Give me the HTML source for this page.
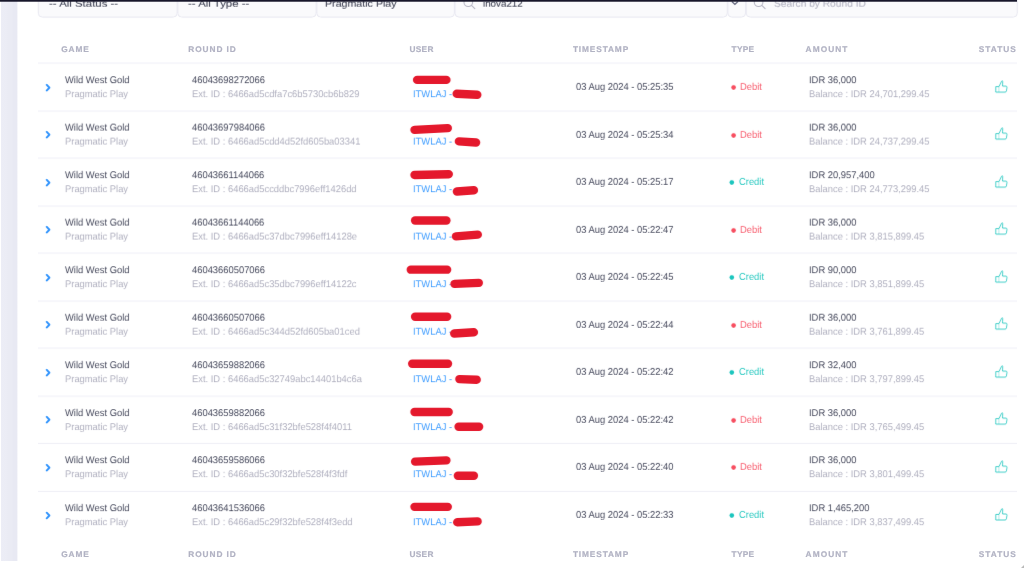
<!DOCTYPE html>
<html lang="en">
<head>
<meta charset="utf-8">
<title>Game Transactions</title>
<style>
html,body{margin:0;padding:0;background:#fff;}
body{width:1024px;height:568px;position:relative;overflow:hidden;font-family:"Liberation Sans",Arial,sans-serif;font-size:9.4px;color:#3f4254;}
.abs{position:absolute;white-space:nowrap;}
#topbar{position:absolute;left:0;top:0;width:1017px;height:2px;background:linear-gradient(180deg,#17162a 0,#17162a 1px,rgba(23,22,42,0.72) 1px,rgba(23,22,42,0.72) 2px);}
#corner{position:absolute;right:0;bottom:0;width:0;height:0;border-style:solid;border-width:0 0 3px 3px;border-color:transparent transparent #b9b9b9 transparent;}
#side{position:absolute;left:1px;top:1px;width:17px;height:560px;background:linear-gradient(90deg,#ecedf6 0,#ebecf5 6px,#eaebf4 7px,#eaebf4 11px,#e8e9f3 12px,#e8e9f3 16px,rgba(232,233,243,0.4) 16.01px,rgba(232,233,243,0.4) 17px);}
.ftext{position:absolute;top:0px;font-size:9.6px;line-height:12px;color:#3f4254;-webkit-text-stroke:0.06px #3f4254;white-space:nowrap;text-rendering:geometricPrecision;transform:scaleX(1.19);transform-origin:0 0;}
.th{position:absolute;font-weight:bold;font-size:8.3px;letter-spacing:1px;color:#b1b2c3;line-height:10px;white-space:nowrap;text-rendering:geometricPrecision;-webkit-text-stroke:0.2px currentColor;}
.line{position:absolute;left:38px;width:979px;height:1px;}
.t1,.t2,.lnk{position:absolute;line-height:11px;white-space:nowrap;font-size:9.9px;text-rendering:geometricPrecision;transform:scaleX(0.9495);transform-origin:0 0;}
.t1{color:#484b5e;}
.t2{color:#b1b1c0;}
.lnk{color:#3f9dff;}
.t1.red{color:#f75d6e;}
.t1.teal{color:#2ac9c1;}
.chev,.thumb,.mark{position:absolute;}
</style>
</head>
<body>
<svg width="0" height="0" style="position:absolute" aria-hidden="true"><defs>
<filter id="k0" x="0" y="-4" width="1024" height="580" filterUnits="userSpaceOnUse" color-interpolation-filters="sRGB"><feConvolveMatrix order="1 7" kernelMatrix="0 0 0.03 0.94 0.03 0 0" divisor="1" edgeMode="none" preserveAlpha="false" result="v"/><feConvolveMatrix in="v" order="3 1" kernelMatrix="0.08 0.84 0.08" divisor="1" edgeMode="none" preserveAlpha="false"/></filter>
<filter id="k1" x="0" y="-4" width="1024" height="580" filterUnits="userSpaceOnUse" color-interpolation-filters="sRGB"><feConvolveMatrix order="1 7" kernelMatrix="0 -0.0009 -0.0209 0.2957 0.7731 -0.0446 -0.0022" divisor="1" edgeMode="none" preserveAlpha="false" result="v"/><feConvolveMatrix in="v" order="3 1" kernelMatrix="0.08 0.84 0.08" divisor="1" edgeMode="none" preserveAlpha="false"/></filter>
<filter id="k2" x="0" y="-4" width="1024" height="580" filterUnits="userSpaceOnUse" color-interpolation-filters="sRGB"><feConvolveMatrix order="1 7" kernelMatrix="0 -0.0019 -0.0328 0.8604 0.1848 -0.01 -0.0005" divisor="1" edgeMode="none" preserveAlpha="false" result="v"/><feConvolveMatrix in="v" order="3 1" kernelMatrix="0.08 0.84 0.08" divisor="1" edgeMode="none" preserveAlpha="false"/></filter>
<filter id="k3" x="0" y="-4" width="1024" height="580" filterUnits="userSpaceOnUse" color-interpolation-filters="sRGB"><feConvolveMatrix order="1 7" kernelMatrix="0 -0.0003 -0.0055 0.1362 0.8937 -0.0225 -0.0016" divisor="1" edgeMode="none" preserveAlpha="false" result="v"/><feConvolveMatrix in="v" order="3 1" kernelMatrix="0.08 0.84 0.08" divisor="1" edgeMode="none" preserveAlpha="false"/></filter>
<filter id="k4" x="0" y="-4" width="1024" height="580" filterUnits="userSpaceOnUse" color-interpolation-filters="sRGB"><feConvolveMatrix order="1 7" kernelMatrix="0 -0.0014 -0.0324 0.418 0.6648 -0.0468 -0.0022" divisor="1" edgeMode="none" preserveAlpha="false" result="v"/><feConvolveMatrix in="v" order="3 1" kernelMatrix="0.08 0.84 0.08" divisor="1" edgeMode="none" preserveAlpha="false"/></filter>
<filter id="k5" x="0" y="-4" width="1024" height="580" filterUnits="userSpaceOnUse" color-interpolation-filters="sRGB"><feConvolveMatrix order="1 7" kernelMatrix="0 -0.0012 -0.0088 0.9188 0.0935 -0.0022 -0.0001" divisor="1" edgeMode="none" preserveAlpha="false" result="v"/><feConvolveMatrix in="v" order="3 1" kernelMatrix="0.08 0.84 0.08" divisor="1" edgeMode="none" preserveAlpha="false"/></filter>
</defs></svg>
<div id="side"></div>
<div class="fbar" style="position:absolute;left:0;top:0px;width:1024px;height:30px;filter:url(#k0)">
<svg class="abs" style="left:0;top:0" width="1024" height="24" viewBox="0 0 1024 24"><g fill="#fafafc" stroke="#e8e8f1" stroke-width="1"><rect x="38.3" y="-9.5" width="138.9" height="26.6" rx="4" ry="4"/><rect x="177.8" y="-9.5" width="138.4" height="26.6" rx="4" ry="4"/><rect x="316.8" y="-9.5" width="137.6" height="26.6" rx="4" ry="4"/><rect x="455" y="-9.5" width="272.3" height="26.6" rx="4" ry="4"/><rect x="727.9" y="-9.5" width="17.7" height="26.6" rx="4" ry="4"/><rect x="746.2" y="-9.5" width="271.1" height="26.6" rx="4" ry="4"/></g><g fill="none" stroke="#b5b5c3" stroke-width="1.1" stroke-linecap="round"><circle cx="468.3" cy="2.2" r="4.3"/><path d="M471.5 5.4L474.8 8.7"/><circle cx="758.6" cy="2.2" r="4.3"/><path d="M761.8 5.4L765.1 8.7"/></g><path d="M731.9 1.5L734.9 4.5L737.9 1.5" fill="none" stroke="#5e6278" stroke-width="1.2"/></svg>
</div>
<div class="ftxt" style="position:absolute;left:0;top:-2px;width:1024px;height:30px;filter:url(#k1)">
<div class="ftext" style="left:49.2px">-- All Status --</div>
<div class="ftext" style="left:188px">-- All Type --</div>
<div class="ftext" style="left:325.4px;transform:scaleX(1.11)">Pragmatic Play</div>
<div class="ftext" style="left:483.2px;transform:scaleX(1.02)">inova212</div>
<div class="ftext" style="left:773.7px;color:#b5b5c3;-webkit-text-stroke:0.1px #b5b5c3;transform:scaleX(1.063)">Search by Round ID</div>
</div>
<div style="position:absolute;left:0;top:44px;width:1024px;height:12px">
<div class="th" style="left:61.3px;top:0px;letter-spacing:0.85px">GAME</div>
<div class="th" style="left:188.2px;top:0px;letter-spacing:0.95px">ROUND ID</div>
<div class="th" style="left:409.4px;top:0px;letter-spacing:0.35px">USER</div>
<div class="th" style="left:572.9px;top:0px;letter-spacing:0.88px">TIMESTAMP</div>
<div class="th" style="left:731.6px;top:0px;letter-spacing:0.25px">TYPE</div>
<div class="th" style="left:805.6px;top:0px;letter-spacing:1.08px">AMOUNT</div>
<div class="th" style="left:978.8px;top:0px;letter-spacing:1.02px">STATUS</div>
</div>
<div style="position:absolute;left:0;top:549px;width:1024px;height:12px">
<div class="th" style="left:61.3px;top:0px;letter-spacing:0.85px">GAME</div>
<div class="th" style="left:188.2px;top:0px;letter-spacing:0.95px">ROUND ID</div>
<div class="th" style="left:409.4px;top:0px;letter-spacing:0.35px">USER</div>
<div class="th" style="left:572.9px;top:0px;letter-spacing:0.88px">TIMESTAMP</div>
<div class="th" style="left:731.6px;top:0px;letter-spacing:0.25px">TYPE</div>
<div class="th" style="left:805.6px;top:0px;letter-spacing:1.08px">AMOUNT</div>
<div class="th" style="left:978.8px;top:0px;letter-spacing:1.02px">STATUS</div>
</div>
<div class="line" style="top:62px;background:rgba(247,247,251,0.87)"></div>
<div class="line" style="top:63px;background:rgba(247,247,251,1.00)"></div>
<div class="line" style="top:64px;background:rgba(247,247,251,0.13)"></div>
<div style="position:absolute;left:0;top:64px;width:1024px;height:47px;filter:url(#k2)">
<div class="t1" style="left:64.7px;top:11px">Wild West Gold</div>
<div class="t2" style="left:64.7px;top:25px">Pragmatic Play</div>
<div class="t1" style="left:192px;top:11px">46043698272066</div>
<div class="t2" style="left:192px;top:25px">Ext. ID : 6466ad5cdfa7c6b5730cb6b829</div>
<div class="lnk" style="left:413px;top:25px">ITWLAJ - </div>
<div class="t1" style="left:808.5px;top:11px">IDR 36,000</div>
<div class="t2" style="left:808.5px;top:25px">Balance : IDR 24,701,299.45</div>
</div>
<div style="position:absolute;left:0;top:63px;width:1024px;height:47px;filter:url(#k3)">
<div class="t1" style="left:576.1px;top:18px">03 Aug 2024 - 05:25:35</div>
<svg class="abs" style="left:730px;top:19px" width="8" height="8" viewBox="0 0 8 8"><circle cx="3.6" cy="4.6" r="2.3" fill="#f64e60"/></svg>
<div class="t1 red" style="left:740.3px;top:18px">Debit</div>
</div>
<div style="position:absolute;left:0;top:64px;width:1024px;height:47px;filter:url(#k2)">
<svg class="chev" style="left:44.6px;top:19px" width="7" height="9" viewBox="0 0 7 9"><path d="M1.7 1.7L4.4 4.5L1.7 7.3" fill="none" stroke="#2e92fc" stroke-width="1.9" stroke-linecap="round" stroke-linejoin="round"/></svg>
<svg class="thumb" style="left:995px;top:16px" viewBox="0 0 13 13" width="13" height="13"><g fill="none" stroke="#35ccc5" stroke-width="0.9" stroke-linejoin="round" stroke-linecap="round"><path d="M1.2 6.4H4L6.6 1C6.9 0.4 7.7 0.5 7.7 1.4L7.6 6H11C11.7 6 12.1 6.5 12 7.2L11.4 10.9C11.3 11.6 10.8 12 10.1 12H1.2Z"/><path d="M3.9 6.8V11.6" opacity="0.45"/></g></svg>
</div>
<div class="line" style="top:110px;background:rgba(247,247,251,0.87)"></div>
<div class="line" style="top:111px;background:rgba(247,247,251,1.00)"></div>
<div class="line" style="top:112px;background:rgba(247,247,251,0.13)"></div>
<div style="position:absolute;left:0;top:111px;width:1024px;height:47px;filter:url(#k4)">
<div class="t1" style="left:64.7px;top:11px">Wild West Gold</div>
<div class="t2" style="left:64.7px;top:25px">Pragmatic Play</div>
<div class="t1" style="left:192px;top:11px">46043697984066</div>
<div class="t2" style="left:192px;top:25px">Ext. ID : 6466ad5cdd4d52fd605ba03341</div>
<div class="lnk" style="left:413px;top:25px">ITWLAJ - </div>
<div class="t1" style="left:808.5px;top:11px">IDR 36,000</div>
<div class="t2" style="left:808.5px;top:25px">Balance : IDR 24,737,299.45</div>
</div>
<div style="position:absolute;left:0;top:111px;width:1024px;height:47px;filter:url(#k3)">
<div class="t1" style="left:576.1px;top:18px">03 Aug 2024 - 05:25:34</div>
<svg class="abs" style="left:730px;top:19px" width="8" height="8" viewBox="0 0 8 8"><circle cx="3.6" cy="4.6" r="2.3" fill="#f64e60"/></svg>
<div class="t1 red" style="left:740.3px;top:18px">Debit</div>
</div>
<div style="position:absolute;left:0;top:111px;width:1024px;height:47px;filter:url(#k2)">
<svg class="chev" style="left:44.6px;top:19px" width="7" height="9" viewBox="0 0 7 9"><path d="M1.7 1.7L4.4 4.5L1.7 7.3" fill="none" stroke="#2e92fc" stroke-width="1.9" stroke-linecap="round" stroke-linejoin="round"/></svg>
<svg class="thumb" style="left:995px;top:16px" viewBox="0 0 13 13" width="13" height="13"><g fill="none" stroke="#35ccc5" stroke-width="0.9" stroke-linejoin="round" stroke-linecap="round"><path d="M1.2 6.4H4L6.6 1C6.9 0.4 7.7 0.5 7.7 1.4L7.6 6H11C11.7 6 12.1 6.5 12 7.2L11.4 10.9C11.3 11.6 10.8 12 10.1 12H1.2Z"/><path d="M3.9 6.8V11.6" opacity="0.45"/></g></svg>
</div>
<div class="line" style="top:157px;background:rgba(247,247,251,0.87)"></div>
<div class="line" style="top:158px;background:rgba(247,247,251,1.00)"></div>
<div class="line" style="top:159px;background:rgba(247,247,251,0.13)"></div>
<div style="position:absolute;left:0;top:159px;width:1024px;height:47px;filter:url(#k2)">
<div class="t1" style="left:64.7px;top:11px">Wild West Gold</div>
<div class="t2" style="left:64.7px;top:25px">Pragmatic Play</div>
<div class="t1" style="left:192px;top:11px">46043661144066</div>
<div class="t2" style="left:192px;top:25px">Ext. ID : 6466ad5ccddbc7996eff1426dd</div>
<div class="lnk" style="left:413px;top:25px">ITWLAJ - </div>
<div class="t1" style="left:808.5px;top:11px">IDR 20,957,400</div>
<div class="t2" style="left:808.5px;top:25px">Balance : IDR 24,773,299.45</div>
</div>
<div style="position:absolute;left:0;top:158px;width:1024px;height:47px;filter:url(#k3)">
<div class="t1" style="left:576.1px;top:18px">03 Aug 2024 - 05:25:17</div>
<svg class="abs" style="left:728px;top:19px" width="8" height="8" viewBox="0 0 8 8"><circle cx="3.8" cy="4.6" r="2.3" fill="#1bc5bd"/></svg>
<div class="t1 teal" style="left:738.7px;top:18px">Credit</div>
</div>
<div style="position:absolute;left:0;top:159px;width:1024px;height:47px;filter:url(#k2)">
<svg class="chev" style="left:44.6px;top:19px" width="7" height="9" viewBox="0 0 7 9"><path d="M1.7 1.7L4.4 4.5L1.7 7.3" fill="none" stroke="#2e92fc" stroke-width="1.9" stroke-linecap="round" stroke-linejoin="round"/></svg>
<svg class="thumb" style="left:995px;top:16px" viewBox="0 0 13 13" width="13" height="13"><g fill="none" stroke="#35ccc5" stroke-width="0.9" stroke-linejoin="round" stroke-linecap="round"><path d="M1.2 6.4H4L6.6 1C6.9 0.4 7.7 0.5 7.7 1.4L7.6 6H11C11.7 6 12.1 6.5 12 7.2L11.4 10.9C11.3 11.6 10.8 12 10.1 12H1.2Z"/><path d="M3.9 6.8V11.6" opacity="0.45"/></g></svg>
</div>
<div class="line" style="top:205px;background:rgba(247,247,251,0.87)"></div>
<div class="line" style="top:206px;background:rgba(247,247,251,1.00)"></div>
<div class="line" style="top:207px;background:rgba(247,247,251,0.13)"></div>
<div style="position:absolute;left:0;top:206px;width:1024px;height:47px;filter:url(#k4)">
<div class="t1" style="left:64.7px;top:11px">Wild West Gold</div>
<div class="t2" style="left:64.7px;top:25px">Pragmatic Play</div>
<div class="t1" style="left:192px;top:11px">46043661144066</div>
<div class="t2" style="left:192px;top:25px">Ext. ID : 6466ad5c37dbc7996eff14128e</div>
<div class="lnk" style="left:413px;top:25px">ITWLAJ - </div>
<div class="t1" style="left:808.5px;top:11px">IDR 36,000</div>
<div class="t2" style="left:808.5px;top:25px">Balance : IDR 3,815,899.45</div>
</div>
<div style="position:absolute;left:0;top:206px;width:1024px;height:47px;filter:url(#k3)">
<div class="t1" style="left:576.1px;top:18px">03 Aug 2024 - 05:22:47</div>
<svg class="abs" style="left:730px;top:19px" width="8" height="8" viewBox="0 0 8 8"><circle cx="3.6" cy="4.6" r="2.3" fill="#f64e60"/></svg>
<div class="t1 red" style="left:740.3px;top:18px">Debit</div>
</div>
<div style="position:absolute;left:0;top:206px;width:1024px;height:47px;filter:url(#k2)">
<svg class="chev" style="left:44.6px;top:19px" width="7" height="9" viewBox="0 0 7 9"><path d="M1.7 1.7L4.4 4.5L1.7 7.3" fill="none" stroke="#2e92fc" stroke-width="1.9" stroke-linecap="round" stroke-linejoin="round"/></svg>
<svg class="thumb" style="left:995px;top:16px" viewBox="0 0 13 13" width="13" height="13"><g fill="none" stroke="#35ccc5" stroke-width="0.9" stroke-linejoin="round" stroke-linecap="round"><path d="M1.2 6.4H4L6.6 1C6.9 0.4 7.7 0.5 7.7 1.4L7.6 6H11C11.7 6 12.1 6.5 12 7.2L11.4 10.9C11.3 11.6 10.8 12 10.1 12H1.2Z"/><path d="M3.9 6.8V11.6" opacity="0.45"/></g></svg>
</div>
<div class="line" style="top:252px;background:rgba(247,247,251,0.87)"></div>
<div class="line" style="top:253px;background:rgba(247,247,251,1.00)"></div>
<div class="line" style="top:254px;background:rgba(247,247,251,0.13)"></div>
<div style="position:absolute;left:0;top:254px;width:1024px;height:47px;filter:url(#k2)">
<div class="t1" style="left:64.7px;top:11px">Wild West Gold</div>
<div class="t2" style="left:64.7px;top:25px">Pragmatic Play</div>
<div class="t1" style="left:192px;top:11px">46043660507066</div>
<div class="t2" style="left:192px;top:25px">Ext. ID : 6466ad5c35dbc7996eff14122c</div>
<div class="lnk" style="left:413px;top:25px">ITWLAJ - </div>
<div class="t1" style="left:808.5px;top:11px">IDR 90,000</div>
<div class="t2" style="left:808.5px;top:25px">Balance : IDR 3,851,899.45</div>
</div>
<div style="position:absolute;left:0;top:253px;width:1024px;height:47px;filter:url(#k3)">
<div class="t1" style="left:576.1px;top:18px">03 Aug 2024 - 05:22:45</div>
<svg class="abs" style="left:728px;top:19px" width="8" height="8" viewBox="0 0 8 8"><circle cx="3.8" cy="4.6" r="2.3" fill="#1bc5bd"/></svg>
<div class="t1 teal" style="left:738.7px;top:18px">Credit</div>
</div>
<div style="position:absolute;left:0;top:254px;width:1024px;height:47px;filter:url(#k2)">
<svg class="chev" style="left:44.6px;top:19px" width="7" height="9" viewBox="0 0 7 9"><path d="M1.7 1.7L4.4 4.5L1.7 7.3" fill="none" stroke="#2e92fc" stroke-width="1.9" stroke-linecap="round" stroke-linejoin="round"/></svg>
<svg class="thumb" style="left:995px;top:16px" viewBox="0 0 13 13" width="13" height="13"><g fill="none" stroke="#35ccc5" stroke-width="0.9" stroke-linejoin="round" stroke-linecap="round"><path d="M1.2 6.4H4L6.6 1C6.9 0.4 7.7 0.5 7.7 1.4L7.6 6H11C11.7 6 12.1 6.5 12 7.2L11.4 10.9C11.3 11.6 10.8 12 10.1 12H1.2Z"/><path d="M3.9 6.8V11.6" opacity="0.45"/></g></svg>
</div>
<div class="line" style="top:300px;background:rgba(247,247,251,0.87)"></div>
<div class="line" style="top:301px;background:rgba(247,247,251,1.00)"></div>
<div class="line" style="top:302px;background:rgba(247,247,251,0.13)"></div>
<div style="position:absolute;left:0;top:301px;width:1024px;height:47px;filter:url(#k1)">
<div class="t1" style="left:64.7px;top:11px">Wild West Gold</div>
<div class="t2" style="left:64.7px;top:25px">Pragmatic Play</div>
<div class="t1" style="left:192px;top:11px">46043660507066</div>
<div class="t2" style="left:192px;top:25px">Ext. ID : 6466ad5c344d52fd605ba01ced</div>
<div class="lnk" style="left:413px;top:25px">ITWLAJ - </div>
<div class="t1" style="left:808.5px;top:11px">IDR 36,000</div>
<div class="t2" style="left:808.5px;top:25px">Balance : IDR 3,761,899.45</div>
</div>
<div style="position:absolute;left:0;top:301px;width:1024px;height:47px;filter:url(#k3)">
<div class="t1" style="left:576.1px;top:18px">03 Aug 2024 - 05:22:44</div>
<svg class="abs" style="left:730px;top:19px" width="8" height="8" viewBox="0 0 8 8"><circle cx="3.6" cy="4.6" r="2.3" fill="#f64e60"/></svg>
<div class="t1 red" style="left:740.3px;top:18px">Debit</div>
</div>
<div style="position:absolute;left:0;top:301px;width:1024px;height:47px;filter:url(#k2)">
<svg class="chev" style="left:44.6px;top:19px" width="7" height="9" viewBox="0 0 7 9"><path d="M1.7 1.7L4.4 4.5L1.7 7.3" fill="none" stroke="#2e92fc" stroke-width="1.9" stroke-linecap="round" stroke-linejoin="round"/></svg>
<svg class="thumb" style="left:995px;top:16px" viewBox="0 0 13 13" width="13" height="13"><g fill="none" stroke="#35ccc5" stroke-width="0.9" stroke-linejoin="round" stroke-linecap="round"><path d="M1.2 6.4H4L6.6 1C6.9 0.4 7.7 0.5 7.7 1.4L7.6 6H11C11.7 6 12.1 6.5 12 7.2L11.4 10.9C11.3 11.6 10.8 12 10.1 12H1.2Z"/><path d="M3.9 6.8V11.6" opacity="0.45"/></g></svg>
</div>
<div class="line" style="top:347px;background:rgba(247,247,251,0.87)"></div>
<div class="line" style="top:348px;background:rgba(247,247,251,1.00)"></div>
<div class="line" style="top:349px;background:rgba(247,247,251,0.13)"></div>
<div style="position:absolute;left:0;top:349px;width:1024px;height:47px;filter:url(#k2)">
<div class="t1" style="left:64.7px;top:11px">Wild West Gold</div>
<div class="t2" style="left:64.7px;top:25px">Pragmatic Play</div>
<div class="t1" style="left:192px;top:11px">46043659882066</div>
<div class="t2" style="left:192px;top:25px">Ext. ID : 6466ad5c32749abc14401b4c6a</div>
<div class="lnk" style="left:413px;top:25px">ITWLAJ - </div>
<div class="t1" style="left:808.5px;top:11px">IDR 32,400</div>
<div class="t2" style="left:808.5px;top:25px">Balance : IDR 3,797,899.45</div>
</div>
<div style="position:absolute;left:0;top:348px;width:1024px;height:47px;filter:url(#k3)">
<div class="t1" style="left:576.1px;top:18px">03 Aug 2024 - 05:22:42</div>
<svg class="abs" style="left:728px;top:19px" width="8" height="8" viewBox="0 0 8 8"><circle cx="3.8" cy="4.6" r="2.3" fill="#1bc5bd"/></svg>
<div class="t1 teal" style="left:738.7px;top:18px">Credit</div>
</div>
<div style="position:absolute;left:0;top:349px;width:1024px;height:47px;filter:url(#k2)">
<svg class="chev" style="left:44.6px;top:19px" width="7" height="9" viewBox="0 0 7 9"><path d="M1.7 1.7L4.4 4.5L1.7 7.3" fill="none" stroke="#2e92fc" stroke-width="1.9" stroke-linecap="round" stroke-linejoin="round"/></svg>
<svg class="thumb" style="left:995px;top:16px" viewBox="0 0 13 13" width="13" height="13"><g fill="none" stroke="#35ccc5" stroke-width="0.9" stroke-linejoin="round" stroke-linecap="round"><path d="M1.2 6.4H4L6.6 1C6.9 0.4 7.7 0.5 7.7 1.4L7.6 6H11C11.7 6 12.1 6.5 12 7.2L11.4 10.9C11.3 11.6 10.8 12 10.1 12H1.2Z"/><path d="M3.9 6.8V11.6" opacity="0.45"/></g></svg>
</div>
<div class="line" style="top:395px;background:rgba(247,247,251,0.72)"></div>
<div class="line" style="top:396px;background:rgba(247,247,251,1.00)"></div>
<div class="line" style="top:397px;background:rgba(247,247,251,0.28)"></div>
<div style="position:absolute;left:0;top:397px;width:1024px;height:47px;filter:url(#k5)">
<div class="t1" style="left:64.7px;top:11px">Wild West Gold</div>
<div class="t2" style="left:64.7px;top:25px">Pragmatic Play</div>
<div class="t1" style="left:192px;top:11px">46043659882066</div>
<div class="t2" style="left:192px;top:25px">Ext. ID : 6466ad5c31f32bfe528f4f4011</div>
<div class="lnk" style="left:413px;top:25px">ITWLAJ - </div>
<div class="t1" style="left:808.5px;top:11px">IDR 36,000</div>
<div class="t2" style="left:808.5px;top:25px">Balance : IDR 3,765,499.45</div>
</div>
<div style="position:absolute;left:0;top:396px;width:1024px;height:47px;filter:url(#k3)">
<div class="t1" style="left:576.1px;top:18px">03 Aug 2024 - 05:22:42</div>
<svg class="abs" style="left:730px;top:19px" width="8" height="8" viewBox="0 0 8 8"><circle cx="3.6" cy="4.6" r="2.3" fill="#f64e60"/></svg>
<div class="t1 red" style="left:740.3px;top:18px">Debit</div>
</div>
<div style="position:absolute;left:0;top:396px;width:1024px;height:47px;filter:url(#k2)">
<svg class="chev" style="left:44.6px;top:19px" width="7" height="9" viewBox="0 0 7 9"><path d="M1.7 1.7L4.4 4.5L1.7 7.3" fill="none" stroke="#2e92fc" stroke-width="1.9" stroke-linecap="round" stroke-linejoin="round"/></svg>
<svg class="thumb" style="left:995px;top:16px" viewBox="0 0 13 13" width="13" height="13"><g fill="none" stroke="#35ccc5" stroke-width="0.9" stroke-linejoin="round" stroke-linecap="round"><path d="M1.2 6.4H4L6.6 1C6.9 0.4 7.7 0.5 7.7 1.4L7.6 6H11C11.7 6 12.1 6.5 12 7.2L11.4 10.9C11.3 11.6 10.8 12 10.1 12H1.2Z"/><path d="M3.9 6.8V11.6" opacity="0.45"/></g></svg>
</div>
<div class="line" style="top:442px;background:rgba(241,241,247,0.16)"></div>
<div class="line" style="top:443px;background:rgba(241,241,247,1.00)"></div>
<div class="line" style="top:444px;background:rgba(241,241,247,0.04)"></div>
<div style="position:absolute;left:0;top:444px;width:1024px;height:47px;filter:url(#k2)">
<div class="t1" style="left:64.7px;top:11px">Wild West Gold</div>
<div class="t2" style="left:64.7px;top:25px">Pragmatic Play</div>
<div class="t1" style="left:192px;top:11px">46043659586066</div>
<div class="t2" style="left:192px;top:25px">Ext. ID : 6466ad5c30f32bfe528f4f3fdf</div>
<div class="lnk" style="left:413px;top:25px">ITWLAJ - </div>
<div class="t1" style="left:808.5px;top:11px">IDR 36,000</div>
<div class="t2" style="left:808.5px;top:25px">Balance : IDR 3,801,499.45</div>
</div>
<div style="position:absolute;left:0;top:443px;width:1024px;height:47px;filter:url(#k3)">
<div class="t1" style="left:576.1px;top:18px">03 Aug 2024 - 05:22:40</div>
<svg class="abs" style="left:730px;top:19px" width="8" height="8" viewBox="0 0 8 8"><circle cx="3.6" cy="4.6" r="2.3" fill="#f64e60"/></svg>
<div class="t1 red" style="left:740.3px;top:18px">Debit</div>
</div>
<div style="position:absolute;left:0;top:444px;width:1024px;height:47px;filter:url(#k2)">
<svg class="chev" style="left:44.6px;top:19px" width="7" height="9" viewBox="0 0 7 9"><path d="M1.7 1.7L4.4 4.5L1.7 7.3" fill="none" stroke="#2e92fc" stroke-width="1.9" stroke-linecap="round" stroke-linejoin="round"/></svg>
<svg class="thumb" style="left:995px;top:16px" viewBox="0 0 13 13" width="13" height="13"><g fill="none" stroke="#35ccc5" stroke-width="0.9" stroke-linejoin="round" stroke-linecap="round"><path d="M1.2 6.4H4L6.6 1C6.9 0.4 7.7 0.5 7.7 1.4L7.6 6H11C11.7 6 12.1 6.5 12 7.2L11.4 10.9C11.3 11.6 10.8 12 10.1 12H1.2Z"/><path d="M3.9 6.8V11.6" opacity="0.45"/></g></svg>
</div>
<div class="line" style="top:490px;background:rgba(241,241,247,0.16)"></div>
<div class="line" style="top:491px;background:rgba(241,241,247,1.00)"></div>
<div class="line" style="top:492px;background:rgba(241,241,247,0.04)"></div>
<div style="position:absolute;left:0;top:492px;width:1024px;height:47px;filter:url(#k2)">
<div class="t1" style="left:64.7px;top:11px">Wild West Gold</div>
<div class="t2" style="left:64.7px;top:25px">Pragmatic Play</div>
<div class="t1" style="left:192px;top:11px">46043641536066</div>
<div class="t2" style="left:192px;top:25px">Ext. ID : 6466ad5c29f32bfe528f4f3edd</div>
<div class="lnk" style="left:413px;top:25px">ITWLAJ - </div>
<div class="t1" style="left:808.5px;top:11px">IDR 1,465,200</div>
<div class="t2" style="left:808.5px;top:25px">Balance : IDR 3,837,499.45</div>
</div>
<div style="position:absolute;left:0;top:491px;width:1024px;height:47px;filter:url(#k3)">
<div class="t1" style="left:576.1px;top:18px">03 Aug 2024 - 05:22:33</div>
<svg class="abs" style="left:728px;top:19px" width="8" height="8" viewBox="0 0 8 8"><circle cx="3.8" cy="4.6" r="2.3" fill="#1bc5bd"/></svg>
<div class="t1 teal" style="left:738.7px;top:18px">Credit</div>
</div>
<div style="position:absolute;left:0;top:492px;width:1024px;height:47px;filter:url(#k0)">
<svg class="chev" style="left:44.6px;top:19px" width="7" height="9" viewBox="0 0 7 9"><path d="M1.7 1.7L4.4 4.5L1.7 7.3" fill="none" stroke="#2e92fc" stroke-width="1.9" stroke-linecap="round" stroke-linejoin="round"/></svg>
<svg class="thumb" style="left:995px;top:16px" viewBox="0 0 13 13" width="13" height="13"><g fill="none" stroke="#35ccc5" stroke-width="0.9" stroke-linejoin="round" stroke-linecap="round"><path d="M1.2 6.4H4L6.6 1C6.9 0.4 7.7 0.5 7.7 1.4L7.6 6H11C11.7 6 12.1 6.5 12 7.2L11.4 10.9C11.3 11.6 10.8 12 10.1 12H1.2Z"/><path d="M3.9 6.8V11.6" opacity="0.45"/></g></svg>
</div>
<svg class="abs" style="left:0;top:0;filter:url(#k0)" width="1024" height="568" viewBox="0 0 1024 568"><g stroke="#e4182c" stroke-width="8.4" stroke-linecap="round" fill="none"><path d="M417.1 79.9L446.4 79.9"/><path d="M456.7 93.8L477.3 94.8"/><path d="M414.5 129.84L447.8 128.14"/><path d="M458.9 141.34L476.1 142.54"/><path d="M414.5 174.98L448.8 174.18"/><path d="M456.9 191.48L473.9 190.28"/><path d="M415.1 220.52L446.4 220.52"/><path d="M456 236.32L477.8 234.62"/><path d="M410.8 269.66L447.1 269.66"/><path d="M454.5 283.86L478.8 282.86"/><path d="M415.1 316.7L447.1 316.7"/><path d="M454.2 333.5L473.9 332.3"/><path d="M412.2 363.74L448 363.74"/><path d="M459.4 379.14L476.7 379.74"/><path d="M414.5 411.98L448.7 411.98"/><path d="M458.6 426.78L479.1 426.78"/><path d="M415.1 461.62L446.4 460.42"/><path d="M457.9 475.82L473.9 475.82"/><path d="M414.5 506.86L447.8 506.86"/><path d="M457.2 522.26L477.6 521.36"/></g></svg>
<div id="topbar"></div>
<div id="corner"></div>
</body>
</html>
